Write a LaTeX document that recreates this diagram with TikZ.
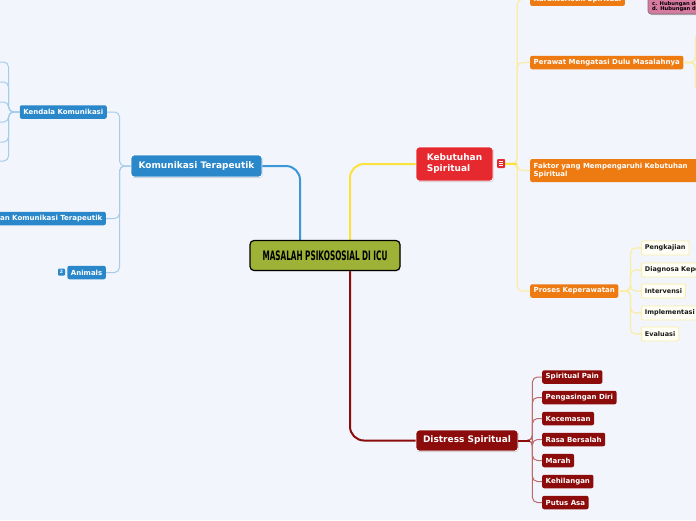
\documentclass[tikz,border=0pt]{standalone}
\usepackage{fontspec}
\setmainfont{DejaVu Sans}
\usetikzlibrary{shadows,calc}
\definecolor{bg}{HTML}{F2F5FC}
\definecolor{blueN}{HTML}{2A88CA}
\definecolor{blueL}{HTML}{3C97D8}
\definecolor{blueS}{HTML}{A5CDEB}
\definecolor{redN}{HTML}{E6282F}
\definecolor{orangeN}{HTML}{EE7A12}
\definecolor{yellowL}{HTML}{FCE23C}
\definecolor{yellowS}{HTML}{FAEDA6}
\definecolor{dredN}{HTML}{8C0B0B}
\definecolor{dredS}{HTML}{BD6A6A}
\definecolor{oliveN}{HTML}{9DB236}
\definecolor{pinkN}{HTML}{D77AA0}
\definecolor{plainF}{HTML}{FEFEF6}
\tikzset{
  rootbox/.style={draw=black, line width=1.2pt, fill=oliveN, rounded corners=4pt,
    minimum width=150pt, minimum height=30pt, inner sep=0pt,
    drop shadow={shadow xshift=0.6pt, shadow yshift=-0.8pt, fill=black!30}},
  mainbox/.style={draw=white, line width=0.9pt, rounded corners=3pt, text=white,
    font=\fontsize{9}{11}\selectfont\bfseries, inner sep=0pt,
    drop shadow={shadow xshift=0.6pt, shadow yshift=-1pt, fill=black!35}},
  subbox/.style={rounded corners=2pt, text=white, font=\fontsize{7}{8.5}\selectfont\bfseries,
    inner xsep=3.5pt, inner ysep=0pt, minimum height=13.5pt},
  plainbox/.style={rounded corners=2pt, text=black!90, fill=plainF, draw=yellowS, line width=0.8pt,
    font=\fontsize{6.5}{8}\selectfont\bfseries, inner xsep=3.5pt, inner ysep=0pt, minimum height=14pt},
  mainlink/.style={line width=2pt, rounded corners=14pt},
  sublink/.style={line width=1pt, rounded corners=5pt},
}
\begin{document}
\begin{tikzpicture}[x=1pt,y=-1pt]
\useasboundingbox (0,0) rectangle (696,520);
\fill[bg] (0,0) rectangle (696,520);
\begin{scope}
\clip (0,0) rectangle (696,520);

% root (placeholder for anchors)
\node[minimum width=150pt, minimum height=30pt, inner sep=0pt] (root) at (325,255.5) {};

% main nodes
\node[mainbox, fill=blueN, minimum width=131pt, minimum height=22pt] (kom) at (196.5,166) {Komunikasi Terapeutik};
\node[mainbox, fill=redN, minimum width=77pt, minimum height=34pt, align=left] (keb) at (454.5,164) {Kebutuhan\\Spiritual};
\node[mainbox, fill=dredN, minimum width=102pt, minimum height=21pt] (dis) at (467,440.5) {Distress Spiritual};

% main connectors
\draw[mainlink, blueL] (kom.east) -| ([xshift=-25pt]root.north);
\draw[mainlink, yellowL] ([xshift=25pt]root.north) |- (keb.west);
\draw[mainlink, dredN] ([xshift=25pt]root.south) |- (dis.west);
\node[rootbox] (rootbox) at (root) {\scalebox{0.56}[1]{\fontsize{13}{13}\selectfont\bfseries MASALAH PSIKOSOSIAL DI ICU}};

% Komunikasi children
\node[subbox, fill=blueN, anchor=east] (ken) at (107,112) {Kendala Komunikasi};
\node[subbox, fill=blueN, anchor=east] (tah) at (106,218.5) {Tahapan Komunikasi Terapeutik};
\node[subbox, fill=blueN, anchor=east] (ani) at (106,272.5) {Animals};
\node[fill=blueN, rounded corners=1pt, minimum size=7pt, inner sep=0pt, text=white,
  font=\fontsize{4.5}{5}\selectfont\bfseries] (badge) at (61.5,272) {2};
\foreach \c in {ken,tah,ani}
  \draw[sublink, blueS] (kom.west) -- ++(-11,0) |- (\c.east);

% Kendala children (off-page)
\foreach \i/\y in {1/62,2/82,3/102,4/122,5/142,6/161}
  \coordinate (k\i) at (-8,\y);
\foreach \i in {1,...,6}
  \draw[sublink, blueS] (ken.west) -- ++(-11,0) |- (k\i);

% Kebutuhan children
\node[fill=redN, rounded corners=1pt, minimum width=8pt, minimum height=9pt, inner sep=0pt] (note) at (501,163.5) {};
\foreach \dy in {-2,0,2}
  \draw[white, line width=0.7pt] ($(note.center)+(-2.3,\dy)$) -- ++(4.6,0);
\node[subbox, fill=orangeN, anchor=west] (kar) at (530,-0.8) {Karakteristik Spiritual};
\node[subbox, fill=orangeN, anchor=west] (per) at (530,62.5) {Perawat Mengatasi Dulu Masalahnya};
\node[subbox, fill=orangeN, anchor=west, align=left, minimum height=23pt, text width=170pt] (fak) at (530,170.5) {Faktor yang Mempengaruhi Kebutuhan\\Spiritual};
\node[subbox, fill=orangeN, anchor=west] (pro) at (530,291) {Proses Keperawatan};
\foreach \c in {kar,per,fak,pro}
  \draw[sublink, yellowS, line width=1.2pt] (note.east) -- ++(12,0) |- (\c.west);
\draw[yellowL, line width=2pt] (note.east) -- ++(12,0);

% Karakteristik detail box
\fill[black!25, rounded corners=3pt] (649,-30) rectangle (700,15);
\filldraw[fill=pinkN, draw=black!55, line width=0.6pt, rounded corners=3pt] (648,-30) rectangle (700,14);
\node[anchor=south west, align=left, inner sep=0pt, font=\fontsize{5.2}{5.2}\selectfont\bfseries, text=black] (pk) at (652,12)
  {c. Hubungan dengan sesama\\d. Hubungan dengan Tuhan};

% Perawat children (off-page)
\foreach \i/\y in {1/33,2/53,3/72,4/92}
  \coordinate (p\i) at (706,\y);
\foreach \i in {1,...,4}
  \draw[sublink, yellowS, line width=1.2pt] (per.east) -- ++(12,0) |- (p\i);

% Proses children
\node[plainbox, anchor=west] (pr1) at (641,248) {Pengkajian};
\node[plainbox, anchor=west] (pr2) at (641,270) {Diagnosa Keperawatan};
\node[plainbox, anchor=west] (pr3) at (641,291) {Intervensi};
\node[plainbox, anchor=west] (pr4) at (641,313) {Implementasi};
\node[plainbox, anchor=west] (pr5) at (641,334) {Evaluasi};
\foreach \i in {1,...,5}
  \draw[sublink, yellowS, line width=1.2pt] (pro.east) -- ++(12,0) |- (pr\i.west);

% Distress children
\node[subbox, fill=dredN, anchor=west] (d1) at (542,377) {Spiritual Pain};
\node[subbox, fill=dredN, anchor=west] (d2) at (542,397.5) {Pengasingan Diri};
\node[subbox, fill=dredN, anchor=west] (d3) at (542,418.5) {Kecemasan};
\node[subbox, fill=dredN, anchor=west] (d4) at (542,439.5) {Rasa Bersalah};
\node[subbox, fill=dredN, anchor=west] (d5) at (542,460.5) {Marah};
\node[subbox, fill=dredN, anchor=west] (d6) at (542,481.5) {Kehilangan};
\node[subbox, fill=dredN, anchor=west] (d7) at (542,502.5) {Putus Asa};
\foreach \i in {1,...,7}
  \draw[sublink, dredS] (dis.east) -- ++(14,0) |- (d\i.west);
\draw[dredN, line width=2pt] (dis.east) -- ++(12,0);
\end{scope}
\end{tikzpicture}
\end{document}
